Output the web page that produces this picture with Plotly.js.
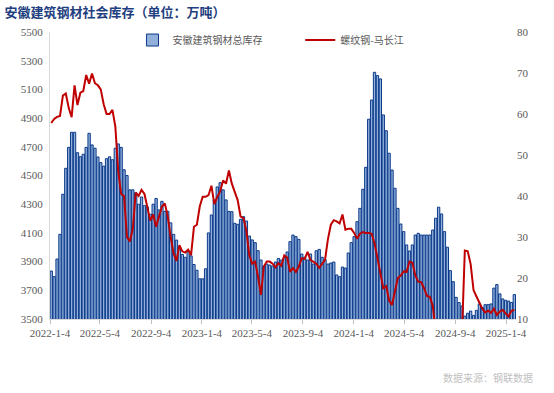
<!DOCTYPE html>
<html>
<head>
<meta charset="utf-8">
<script src="https://cdn.plot.ly/plotly-3.0.1.min.js"></script>
<style>html,body{margin:0;padding:0;background:#fff;}#chart{width:554px;height:393px;}</style>
</head>
<body>
<div id="chart"></div>
<script>
// Weekly series start date (one bar per week)
const firstWeek = '2022-01-07';
// 安徽建筑钢材总库存 (万吨), weekly
const totalStock = [
  3834, 3795, 3918, 4090, 4369, 4550, 4696, 4801, 4801, 4659,
  4631, 4648, 4696, 4794, 4713, 4690, 4629, 4590, 4565, 4617,
  4630, 4610, 4690, 4720, 4696, 4540, 4500, 4400, 4400, 4380,
  4300, 4350, 4290, 4280, 4230, 4300, 4340, 4260, 4320, 4250,
  4250, 4170, 4090, 4050, 4000, 3950, 3930, 3970, 3940, 3880,
  3840, 3780, 3780, 3850, 4100, 4225, 4330, 4420, 4450, 4400,
  4330, 4250, 4248, 4167, 4160, 4194, 4213, 4183, 4078, 4051,
  4032, 3976, 3911, 3869, 3883, 3876, 3869, 3897, 3922, 3911,
  3928, 3967, 4039, 4085, 4074, 4055, 3953, 3930, 3911, 3953,
  3883, 3976, 3985, 3930, 3913, 3883, 3890, 3897, 3807, 3795,
  3862, 3855, 3960, 4032, 4074, 4178, 4271, 4404, 4557, 4892,
  5026, 5219, 5196, 5173, 4922, 4812, 4655, 4538, 4411, 4271,
  4162, 4109, 4016, 3974, 4016, 4085, 4097, 4085, 4085, 4085,
  4085, 4120, 4202, 4279, 4232, 4109, 4000, 3837, 3760, 3651,
  3614, 3591, 3520, 3540, 3555, 3525, 3560, 3605, 3580, 3600,
  3600, 3605, 3715, 3740, 3675, 3640, 3630, 3625, 3615, 3670
];
// 螺纹钢-马长江 (right axis), weekly
const rebarMa = [
  57.8, 58.8, 59.3, 59.5, 64.5, 65, 61.5, 59.2, 67, 62.2,
  65.2, 65.6, 69.5, 67.4, 69.9, 67.5, 67, 66, 62.4, 60,
  60, 61, 57, 46, 40.5, 40, 30, 28.9, 32, 40.8,
  40, 41.5, 40.5, 37.3, 34, 35.5, 32.5, 35, 37.4, 38.2,
  35, 30, 26, 24.2, 28, 26.5, 26.2, 26.9, 25.6, 32.5,
  33, 37.5, 39.8, 39.8, 40.2, 42.5, 38, 39.8, 41.1, 43.8,
  43, 46.2, 43, 41, 39, 35, 34.6, 31.5, 25.5, 23.5,
  24, 20.3, 15.9, 22.8, 24, 24, 23.5, 22.6, 23.6, 23,
  25.5, 25, 21.5, 22.4, 21.5, 22.8, 24.8, 24.6, 26.4, 24.4,
  24, 23.5, 22.5, 23.5, 24.4, 29.5, 33, 34.1, 33.8, 33.3,
  35.5, 31.8, 32, 32, 31, 29.6, 30.8, 31.2, 31, 31,
  30.8, 28.5, 24.8, 20.5, 17.5, 18, 14.5, 13.4, 17, 20,
  20.6, 21.6, 21.5, 24, 23.7, 20.6, 19.1, 19, 17.5, 15.6,
  15.4, 13.2, 7, 6, 6, 6, 6, 6, 6, 6,
  6, 6, 26.7, 26.5, 23.4, 17, 15.5, 14, 12.5, 11.6,
  12, 11.5, 12.5, 11, 11.8, 12.2, 11.5, 10.6, 12, 12.2
];
const tickDates = ['2022-01-04','2022-05-04','2022-09-04','2023-01-04','2023-05-04','2023-09-04','2024-01-04','2024-05-04','2024-09-04','2025-01-04'];
const tickLabels = ['2022-1-4','2022-5-4','2022-9-4','2023-1-4','2023-5-4','2023-9-4','2024-1-4','2024-5-4','2024-9-4','2025-1-4'];
const leftTicks = [3500,3700,3900,4100,4300,4500,4700,4900,5100,5300,5500];
const rightTicks = [10,20,30,40,50,60,70,80];

function weekDates(start, n) {
  const out = [];
  const t0 = Date.parse(start + 'T00:00:00Z');
  for (let i = 0; i < n; i++) {
    out.push(new Date(t0 + i * 7 * 86400000).toISOString().slice(0, 10));
  }
  return out;
}
const weeks = weekDates(firstWeek, totalStock.length);

const tickFont = {family: 'Liberation Serif, serif', size: 11, color: '#595959'};
const cjk = 'Noto Sans CJK SC, sans-serif';
const legendFont = {family: cjk, size: 10, color: '#595959'};

const data = [
  {
    type: 'bar', name: '安徽建筑钢材总库存', x: weeks, y: totalStock,
    marker: {color: '#93b0da', line: {color: '#0b3a8a', width: 1}},
    yaxis: 'y', legend: 'legend'
  },
  {
    type: 'scatter', mode: 'lines', name: '螺纹钢-马长江', x: weeks, y: rebarMa,
    line: {color: '#c00000', width: 2}, yaxis: 'y2', legend: 'legend2'
  }
];

const layout = {
  width: 554, height: 393,
  margin: {l: 50, r: 38, t: 32, b: 74},
  paper_bgcolor: '#ffffff', plot_bgcolor: '#ffffff',
  bargap: 0.2,
  showlegend: true,
  title: {
    text: '<b>安徽建筑钢材社会库存（单位：万吨）</b>',
    font: {family: cjk, size: 13, color: '#1f3f80'},
    x: 0.008, xanchor: 'left', xref: 'container',
    y: 0.968, yanchor: 'middle', yref: 'container'
  },
  legend: {
    orientation: 'h', x: 0.177, xanchor: 'left', y: 0.972, yanchor: 'middle',
    font: legendFont, bgcolor: 'rgba(0,0,0,0)', itemwidth: 30
  },
  legend2: {
    orientation: 'h', x: 0.537, xanchor: 'left', y: 0.972, yanchor: 'middle',
    font: legendFont, bgcolor: 'rgba(0,0,0,0)', itemwidth: 30
  },
  xaxis: {
    type: 'date', range: ['2022-01-04', '2025-01-28'],
    tickmode: 'array', tickvals: tickDates, ticktext: tickLabels,
    tickfont: tickFont, ticks: 'outside', ticklen: 4, tickcolor: '#bfbfbf',
    showline: true, linecolor: '#d9d9d9', linewidth: 1,
    showgrid: false, zeroline: false, fixedrange: true
  },
  yaxis: {
    range: [3500, 5500], tickmode: 'array', tickvals: leftTicks,
    tickfont: tickFont, showline: true, linecolor: '#d9d9d9', linewidth: 1,
    ticks: '', showgrid: false, zeroline: false, ticklabelstandoff: 4
  },
  yaxis2: {
    range: [10, 80], overlaying: 'y', side: 'right', tickmode: 'array', tickvals: rightTicks,
    tickfont: tickFont, showline: false, ticks: '', showgrid: false, zeroline: false
  },
  annotations: [
    {
      text: '数据来源：钢联数据', xref: 'paper', yref: 'paper',
      x: 1.04, xanchor: 'right', y: -0.205, yanchor: 'middle', showarrow: false,
      font: {family: cjk, size: 10, color: '#bfbfbf'}
    }
  ]
};

Plotly.newPlot('chart', data, layout, {displayModeBar: false, staticPlot: true});
</script>
</body>
</html>
